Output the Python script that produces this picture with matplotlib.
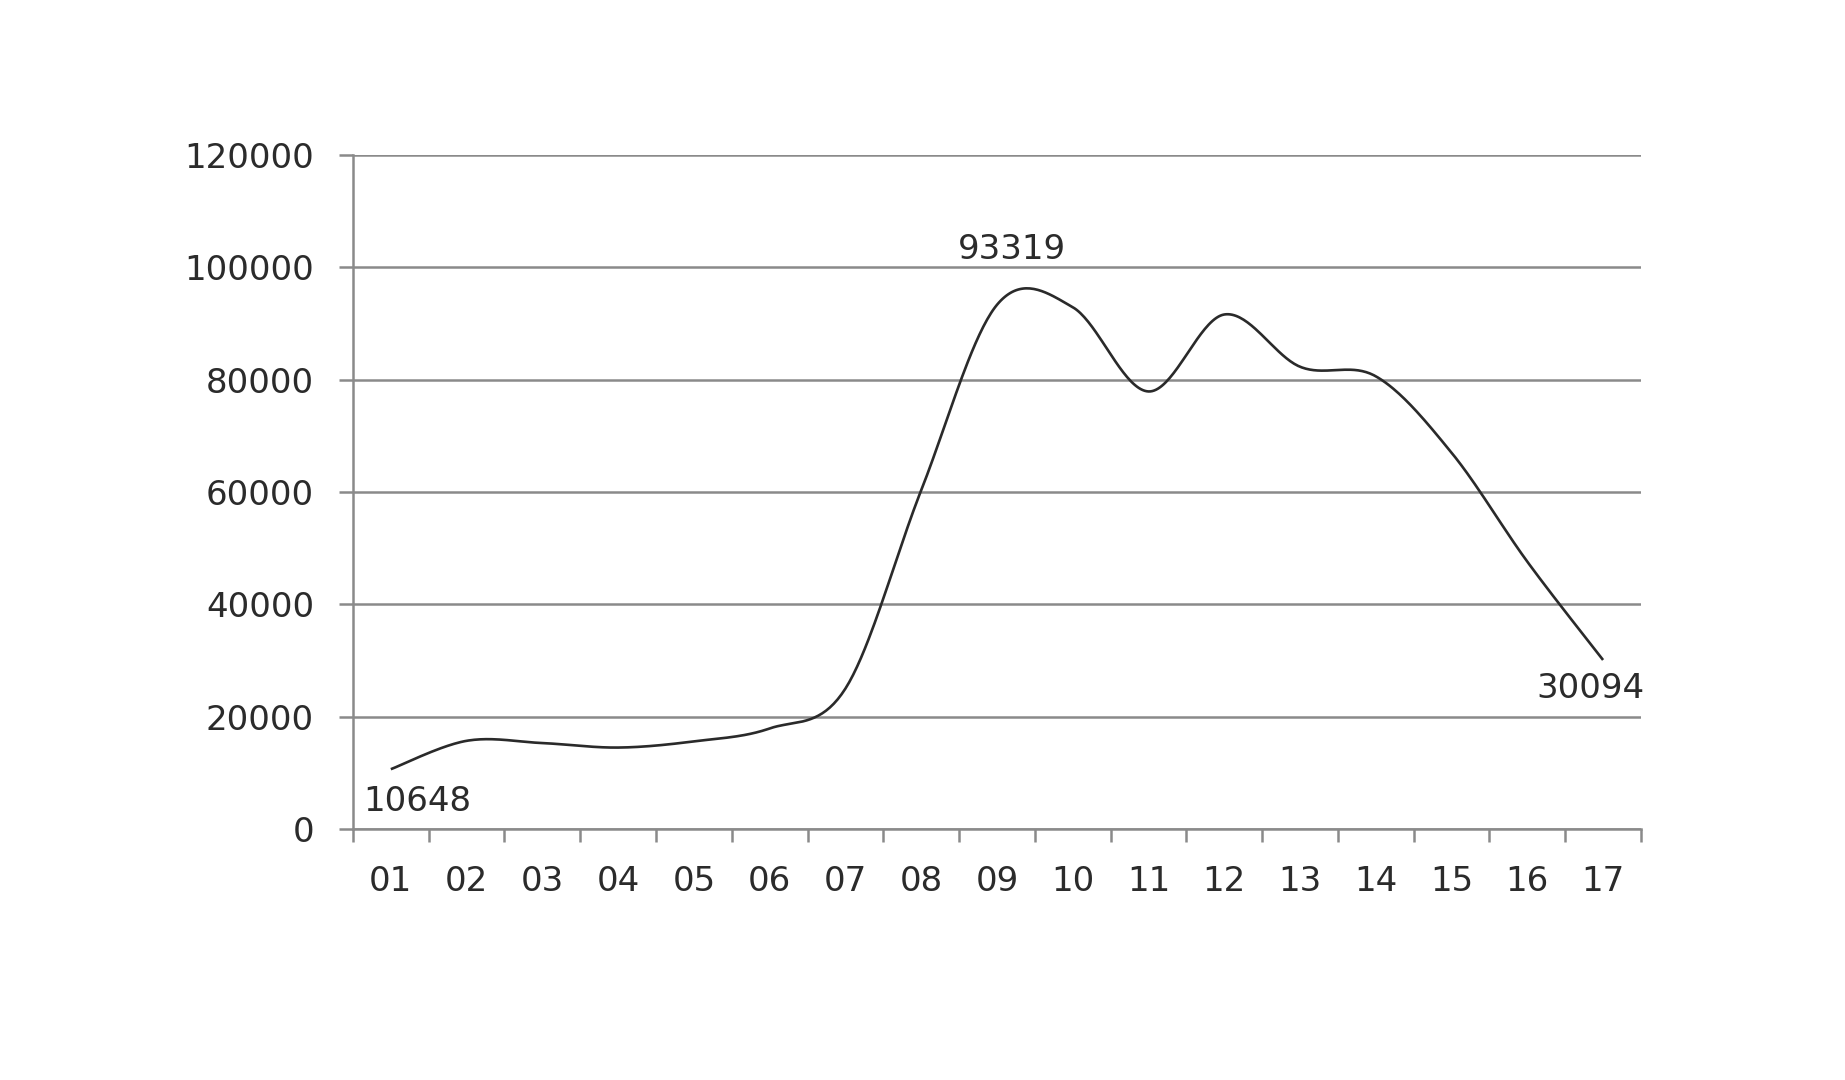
import numpy as np
import matplotlib
matplotlib.use("Agg")
import matplotlib.pyplot as plt

# values
months = ["01", "02", "03", "04", "05", "06", "07", "08", "09",
          "10", "11", "12", "13", "14", "15", "16", "17"]
values = [10648, 15700, 15300, 14500, 15600, 17900, 25000, 60300, 93319,
          92900, 77900, 91600, 82300, 80600, 67000, 47600, 30094]
# which points carry a data label
label_idx = [0, 8, 16]


def smooth(x, y, n=40):
    # Catmull-Rom curve through the points, like the "smoothed line" option
    x = np.asarray(x, float)
    y = np.asarray(y, float)
    xp = np.concatenate([[x[0]], x, [x[-1]]])
    yp = np.concatenate([[y[0]], y, [y[-1]]])
    xs, ys = [], []
    t = np.linspace(0, 1, n)
    for i in range(1, len(xp) - 2):
        p0, p1, p2, p3 = yp[i - 1], yp[i], yp[i + 1], yp[i + 2]
        q0, q1, q2, q3 = xp[i - 1], xp[i], xp[i + 1], xp[i + 2]
        m1, m2 = (p2 - p0) / 2, (p3 - p1) / 2
        k1, k2 = (q2 - q0) / 2, (q3 - q1) / 2
        h00 = 2 * t**3 - 3 * t**2 + 1
        h10 = t**3 - 2 * t**2 + t
        h01 = -2 * t**3 + 3 * t**2
        h11 = t**3 - t**2
        xs.append(h00 * q1 + h10 * k1 + h01 * q2 + h11 * k2)
        ys.append(h00 * p1 + h10 * m1 + h01 * p2 + h11 * m2)
    return np.concatenate(xs), np.concatenate(ys)


grey = "#8a8a8a"
txt = "#2b2b2b"
fs = 24.5

fig = plt.figure(figsize=(18.45, 10.8), dpi=100)
ax = fig.add_axes([0.1913, 0.2324, 0.6981, 0.6241])

x = np.arange(1, len(months) + 1)
sx, sy = smooth(x, values)
ax.plot(sx, sy, color="#2a2a2a", lw=1.9, solid_capstyle="butt")

offsets = {0: (26, -32), 8: (15, 55), 16: (-13, -29)}
for i in label_idx:
    ax.annotate(str(values[i]), (x[i], values[i]), xytext=offsets[i],
                textcoords="offset pixels", ha="center", va="center",
                fontsize=fs, color=txt)

ax.set_xlim(0.5, len(months) + 0.5)
ax.set_ylim(0, 120000)
ax.set_yticks(range(0, 120001, 20000))
ax.set_xticks(x)
ax.set_xticklabels(months)
ax.set_xticks(np.arange(0.5, len(months) + 1, 1), minor=True)

ax.tick_params(axis="x", which="major", length=0, pad=26, labelsize=fs, labelcolor=txt)
ax.tick_params(axis="x", which="minor", length=9.5, width=1.8, color=grey, direction="out")
ax.tick_params(axis="y", length=10, width=1.8, color=grey, pad=18, labelsize=fs, labelcolor=txt)

ax.yaxis.grid(True, color=grey, lw=1.8)
ax.set_axisbelow(True)
for s in ["top", "right"]:
    ax.spines[s].set_visible(False)
for s in ["left", "bottom"]:
    ax.spines[s].set_color(grey)
    ax.spines[s].set_linewidth(1.8)

fig.savefig("out.png", dpi=100, facecolor="white")
